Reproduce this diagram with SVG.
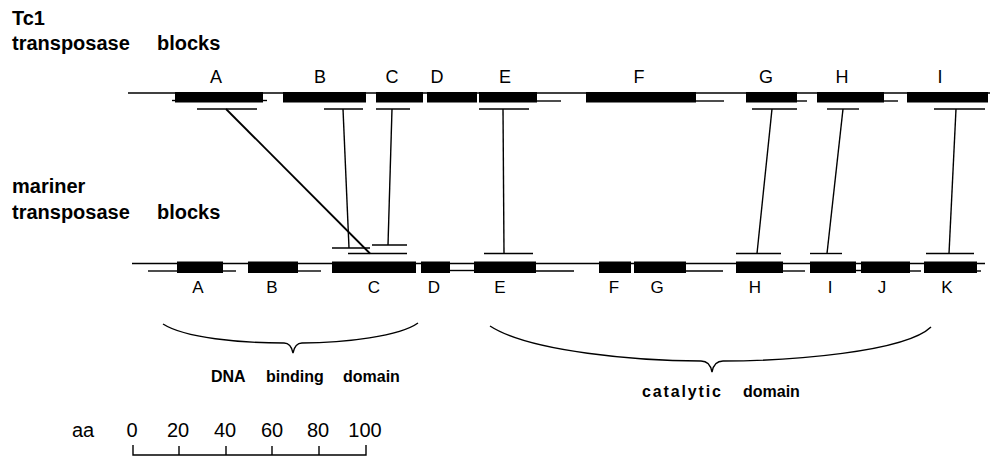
<svg xmlns="http://www.w3.org/2000/svg" width="992" height="459" viewBox="0 0 992 459">
<style>
  .bg { fill: #ffffff; }
  .blk { fill: #000000; }
  .ln { stroke: #000000; stroke-width: 1.4; fill: none; }
  .cn { stroke: #000000; stroke-width: 1.4; fill: none; }
  .hd { font-family: "Liberation Sans", Arial, Helvetica, sans-serif; font-weight: bold; font-size: 20px; fill: #000; }
  .lt { font-family: "Liberation Sans", Arial, Helvetica, sans-serif; font-size: 18px; fill: #000; text-anchor: middle; }
  .lb { font-family: "Liberation Sans", Arial, Helvetica, sans-serif; font-size: 17px; fill: #000; text-anchor: middle; }
  .dm { font-family: "Liberation Sans", Arial, Helvetica, sans-serif; font-weight: bold; font-size: 16px; fill: #000; }
  .sc { font-family: "Liberation Sans", Arial, Helvetica, sans-serif; font-size: 20px; fill: #000; text-anchor: middle; }
</style>
<rect class="bg" x="0" y="0" width="992" height="459"/>

<g id="titles">
  <text class="hd" x="12" y="25">Tc1</text>
  <text class="hd" x="12" y="50">transposase</text>
  <text class="hd" x="157" y="50">blocks</text>
  <text class="hd" x="12" y="193">mariner</text>
  <text class="hd" x="12" y="219">transposase</text>
  <text class="hd" x="157" y="219">blocks</text>
</g>

<g id="tc1-track">
  <line class="ln" x1="128" y1="93" x2="990" y2="93"/>
  <line class="ln" x1="172" y1="100.5" x2="176" y2="100.5"/>
  <line class="ln" x1="262" y1="100.5" x2="267" y2="100.5"/>
  <line class="ln" x1="536" y1="101" x2="561" y2="101"/>
  <line class="ln" x1="696" y1="101" x2="724" y2="101"/>
  <line class="ln" x1="796" y1="101" x2="807" y2="101"/>
  <line class="ln" x1="883" y1="101" x2="898" y2="101"/>
</g>
<g id="tc1-A"><rect class="blk" x="175" y="92" width="88" height="10.5"/><line class="ln" x1="197" y1="109" x2="257" y2="109"/><text class="lt" x="216" y="83">A</text></g>
<g id="tc1-B"><rect class="blk" x="283" y="92" width="83" height="10.5"/><line class="ln" x1="324" y1="109" x2="363" y2="109"/><text class="lt" x="320" y="83">B</text></g>
<g id="tc1-C"><rect class="blk" x="376" y="92" width="47" height="10.5"/><line class="ln" x1="376" y1="109" x2="410" y2="109"/><text class="lt" x="392" y="83">C</text></g>
<g id="tc1-D"><rect class="blk" x="427" y="92" width="50" height="10.5"/><text class="lt" x="437" y="83">D</text></g>
<g id="tc1-E"><rect class="blk" x="479" y="92" width="58" height="10.5"/><line class="ln" x1="479" y1="109" x2="529" y2="109"/><text class="lt" x="505" y="83">E</text></g>
<g id="tc1-F"><rect class="blk" x="586" y="92" width="110" height="10.5"/><text class="lt" x="639" y="83">F</text></g>
<g id="tc1-G"><rect class="blk" x="746" y="92" width="51" height="10.5"/><line class="ln" x1="752" y1="109" x2="797" y2="109"/><text class="lt" x="766" y="83">G</text></g>
<g id="tc1-H"><rect class="blk" x="817" y="92" width="67" height="10.5"/><line class="ln" x1="827" y1="109" x2="859" y2="109"/><text class="lt" x="842" y="83">H</text></g>
<g id="tc1-I"><rect class="blk" x="907" y="92" width="81" height="10.5"/><line class="ln" x1="934" y1="109" x2="985" y2="109"/><text class="lt" x="940" y="83">I</text></g>

<g id="mariner-track">
  <line class="ln" x1="132" y1="263.5" x2="985" y2="263.5"/>
  <line class="ln" x1="148" y1="271" x2="178" y2="271"/>
  <line class="ln" x1="222" y1="271" x2="236" y2="271"/>
  <line class="ln" x1="297" y1="271" x2="321" y2="271"/>
  <line class="ln" x1="449" y1="270.5" x2="475" y2="270.5"/>
  <line class="ln" x1="535" y1="271" x2="574" y2="271"/>
  <line class="ln" x1="685" y1="271" x2="723" y2="271"/>
  <line class="ln" x1="782" y1="271" x2="805" y2="271"/>
  <line class="ln" x1="855" y1="270.5" x2="862" y2="270.5"/>
  <line class="ln" x1="909" y1="271" x2="921" y2="271"/>
  <line class="ln" x1="976" y1="271" x2="981" y2="271"/>
</g>
<g id="mar-A"><rect class="blk" x="177" y="261.5" width="46" height="11.5"/><text class="lb" x="198" y="292.5">A</text></g>
<g id="mar-B"><rect class="blk" x="248" y="261.5" width="50" height="11.5"/><text class="lb" x="272" y="292.5">B</text></g>
<g id="mar-C"><rect class="blk" x="332" y="261.5" width="84" height="11.5"/><line class="ln" x1="332" y1="248" x2="370" y2="248"/><line class="ln" x1="372" y1="245" x2="407" y2="245"/><line class="ln" x1="348" y1="253.5" x2="407" y2="253.5"/><text class="lb" x="374" y="292.5">C</text></g>
<g id="mar-D"><rect class="blk" x="421" y="261.5" width="29" height="11.5"/><text class="lb" x="434" y="292.5">D</text></g>
<g id="mar-E"><rect class="blk" x="474" y="261.5" width="62" height="11.5"/><line class="ln" x1="484" y1="253.5" x2="533" y2="253.5"/><text class="lb" x="500" y="292.5">E</text></g>
<g id="mar-F"><rect class="blk" x="599" y="261.5" width="32" height="11.5"/><text class="lb" x="614" y="292.5">F</text></g>
<g id="mar-G"><rect class="blk" x="634" y="261.5" width="52" height="11.5"/><text class="lb" x="657" y="292.5">G</text></g>
<g id="mar-H"><rect class="blk" x="736" y="261.5" width="47" height="11.5"/><line class="ln" x1="736" y1="253.5" x2="781" y2="253.5"/><text class="lb" x="755" y="292.5">H</text></g>
<g id="mar-I"><rect class="blk" x="810" y="261.5" width="46" height="11.5"/><line class="ln" x1="810" y1="253.5" x2="842" y2="253.5"/><text class="lb" x="830" y="292.5">I</text></g>
<g id="mar-J"><rect class="blk" x="861" y="261.5" width="49" height="11.5"/><text class="lb" x="882" y="292.5">J</text></g>
<g id="mar-K"><rect class="blk" x="924" y="261.5" width="53" height="11.5"/><line class="ln" x1="926" y1="253.5" x2="974" y2="253.5"/><text class="lb" x="947" y="292.5">K</text></g>

<g id="connectors">
  <line class="cn" x1="226" y1="109" x2="370" y2="253.5" style="stroke-width:1.8"/>
  <line class="cn" x1="343" y1="109" x2="349" y2="248"/>
  <line class="cn" x1="392" y1="109" x2="388" y2="245"/>
  <line class="cn" x1="503" y1="109" x2="504" y2="253.5"/>
  <line class="cn" x1="772" y1="109" x2="757" y2="253.5"/>
  <line class="cn" x1="843" y1="109" x2="827" y2="253.5"/>
  <line class="cn" x1="956" y1="109" x2="949" y2="253.5"/>
</g>

<g id="dna-binding-domain">
  <path class="ln" d="M163,324 C185,338 240,343 284,343 Q291,343 293,353 Q295,343 302,343 C345,343 400,336 418,323"/>
  <text class="dm" x="211" y="382">DNA</text>
  <text class="dm" x="266" y="382">binding</text>
  <text class="dm" x="343" y="382">domain</text>
</g>

<g id="catalytic-domain">
  <path class="ln" d="M490,326 C530,352 640,361 701,361 Q710,361 712,372 Q714,361 723,361 C790,361 905,352 931,327"/>
  <text class="dm" x="642" y="397" textLength="79" lengthAdjust="spacing">catalytic</text>
  <text class="dm" x="743" y="397">domain</text>
</g>

<g id="scale-bar">
  <text class="sc" x="83" y="437">aa</text>
  <text class="sc" x="132" y="437">0</text>
  <text class="sc" x="178" y="437">20</text>
  <text class="sc" x="225" y="437">40</text>
  <text class="sc" x="272" y="437">60</text>
  <text class="sc" x="318" y="437">80</text>
  <text class="sc" x="365" y="437">100</text>
  <path class="ln" d="M133,445 V455 H366 V445 M179,446 V455 M226,446 V455 M272,446 V455 M319,446 V455"/>
</g>
</svg>
